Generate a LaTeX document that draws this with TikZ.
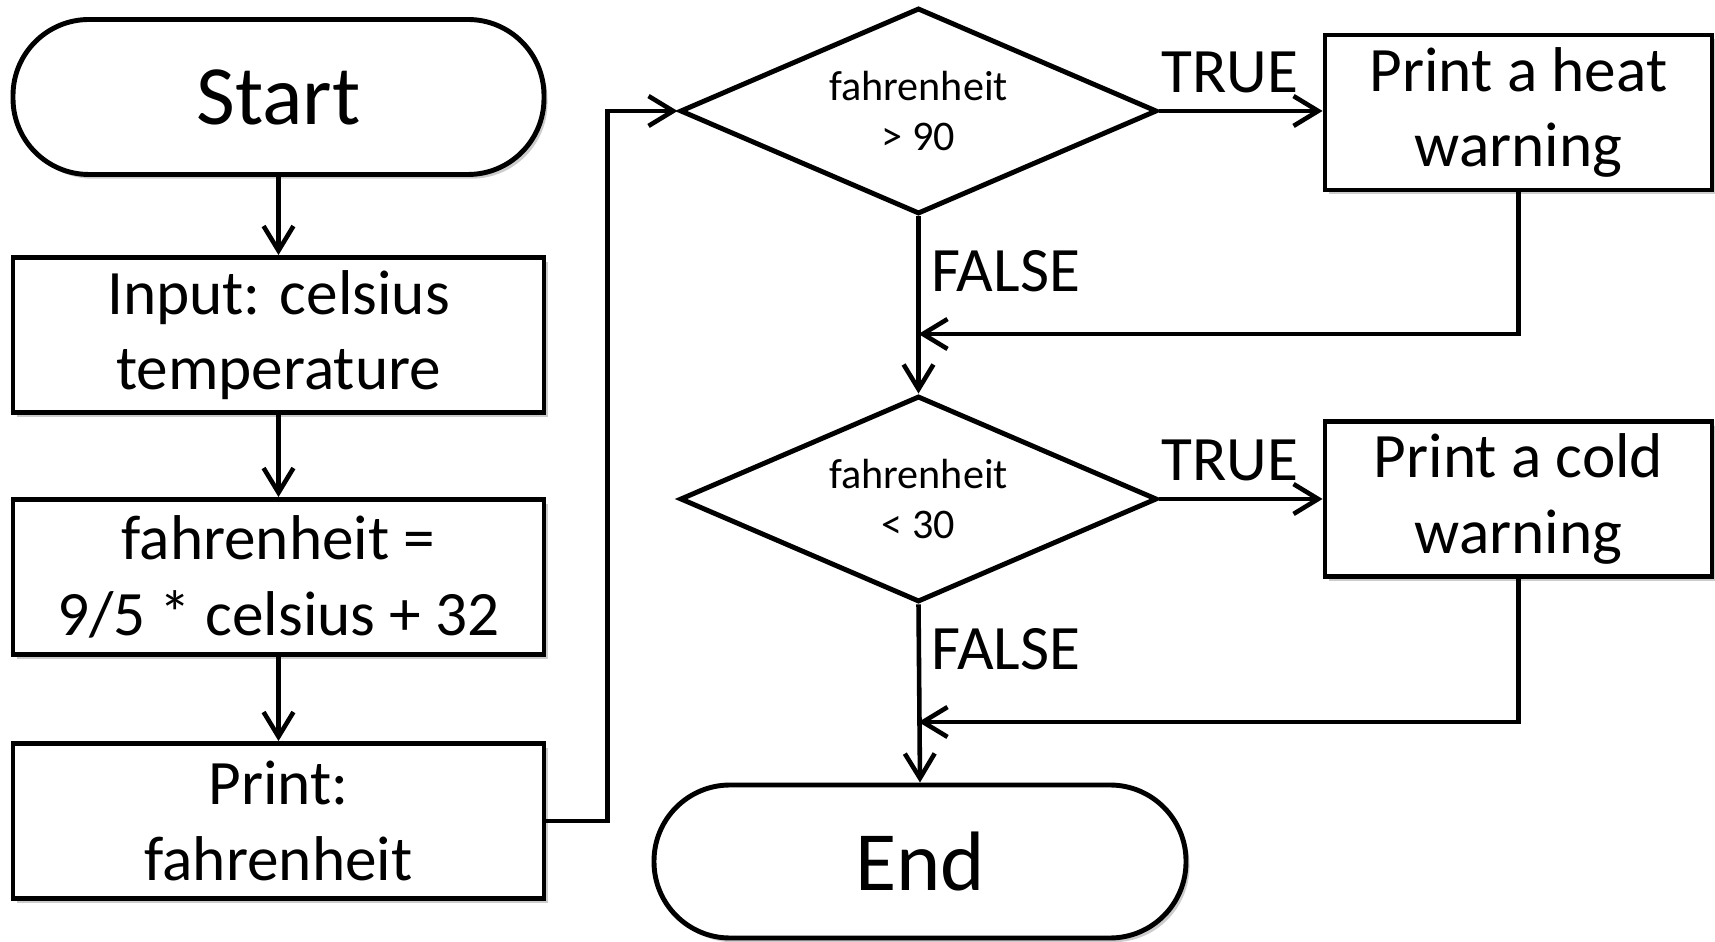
\documentclass[tikz,border=0pt]{standalone}
\usepackage{fontspec}
\setmainfont{Carlito}
\usepackage{tikz}
\usetikzlibrary{positioning,shapes.geometric,arrows.meta,shadows}
\definecolor{Cpreto}{RGB}{0,0,0}
\definecolor{Csombra}{RGB}{110,110,110}

\begin{document}
\begin{tikzpicture}[
    caixa/.style={draw=Cpreto, line width=1.4pt, fill=white, align=center,
      minimum width=5.31cm, minimum height=1.55cm,
      font=\fontsize{18}{21.5}\selectfont,
      drop shadow={shadow xshift=1pt, shadow yshift=-1.2pt, opacity=0.35, fill=Csombra}},
    terminal/.style={caixa, rounded corners=0.76cm, font=\fontsize{24}{28}\selectfont},
    aviso/.style={caixa, minimum width=3.87cm},
    decisao/.style={diamond, aspect=2.3, draw=Cpreto, line width=1.4pt, fill=white,
      minimum width=4.77cm, minimum height=2.06cm, inner sep=0pt, align=center,
      font=\fontsize{12}{14.5}\selectfont},
    seta/.style={draw=Cpreto, line width=1.3pt, -{Straight Barb[length=7pt,width=8.5pt]}},
    rotulo/.style={font=\fontsize{18}{21.5}\selectfont, inner sep=3pt}
  ]
      \useasboundingbox (0,0) rectangle (17.15,9.41);
      % Coluna da esquerda
      \node[terminal] (start) at (2.785,8.44) {Start};
      \node[caixa] (input) at (2.785,6.06) {Input: celsius\\temperature};
      \node[caixa] (calc) at (2.785,3.64) {fahrenheit =\\9/5 * celsius + 32};
      \node[caixa] (printf) at (2.785,1.20) {Print:\\fahrenheit};
      % Decisoes e avisos
      \node[decisao] (dec1) at (9.185,8.30) {fahrenheit\\> 90};
      \node[aviso] (heat) at (15.185,8.285) {Print a heat\\warning};
      \node[decisao] (dec2) at (9.185,4.42) {fahrenheit\\< 30};
      \node[aviso] (cold) at (15.185,4.42) {Print a cold\\warning};
      \node[terminal, minimum width=5.32cm, minimum height=1.53cm] (end) at (9.20,0.795) {End};
      % Pontos de juncao na linha FALSE
      \coordinate (m1) at (9.185,6.07);
      \coordinate (m2) at (9.185,2.19);
      % Setas
      \draw[seta] (start) -- (input);
      \draw[seta] (input) -- (calc);
      \draw[seta] (calc) -- (printf);
      \draw[seta] (printf.east) -- ++(0.61,0) |- (dec1.west);
      \draw[seta] (dec1.east) -- node[rotulo, above=1.5pt, pos=0.43] {TRUE} (dec1.east -| heat.west);
      \draw[seta] (dec1.south) -- node[rotulo, right, pos=0.31] {FALSE} (dec2.north);
      \draw[seta] (heat.south) |- (m1);
      \draw[seta] (dec2.east) -- node[rotulo, above=1.5pt, pos=0.43] {TRUE} (dec2.east -| cold.west);
      \draw[seta] (dec2.south) -- node[rotulo, right, pos=0.25] {FALSE} (end.north);
      \draw[seta] (cold.south) |- (m2);
    \end{tikzpicture}
\end{document}
